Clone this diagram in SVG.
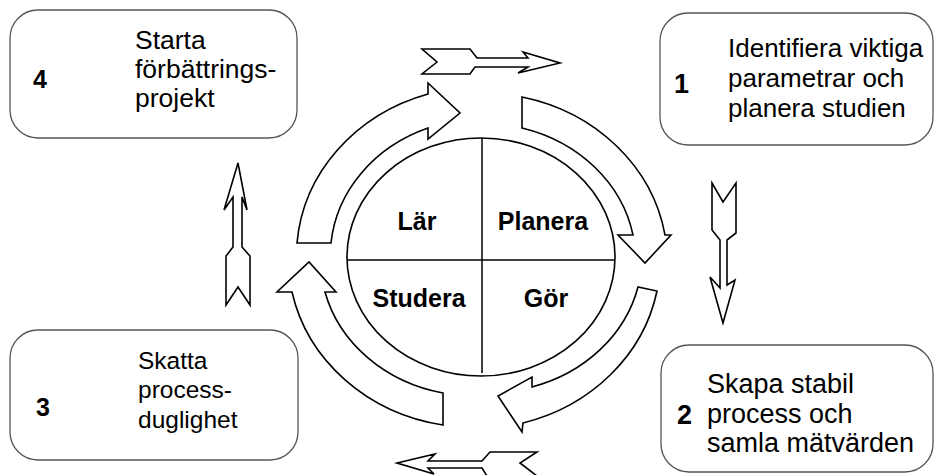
<svg xmlns="http://www.w3.org/2000/svg" width="935" height="475" viewBox="0 0 935 475">
<style>
.box{fill:#fff;stroke:#555;stroke-width:1.3}
.arr{fill:#fff;stroke:#000;stroke-width:1.6;stroke-linejoin:miter}
.t{font-family:"Liberation Sans",Arial,sans-serif;fill:#000}
.n{font-family:"Liberation Sans",Arial,sans-serif;font-weight:bold;fill:#000}
.c{font-family:"Liberation Sans",Arial,sans-serif;font-weight:bold;font-size:25px;fill:#000;text-anchor:middle}
</style>
<rect width="935" height="475" fill="#fff"/>
<g id="box4">
<rect class="box" x="10" y="10" width="287" height="128" rx="28"/>
<text class="n" x="33" y="88" font-size="25">4</text>
<text class="t" font-size="26.5"><tspan x="135" y="49">Starta</tspan><tspan x="135" y="78">förbättrings-</tspan><tspan x="135" y="107">projekt</tspan></text>
</g>
<g id="box1">
<rect class="box" x="660" y="13" width="273" height="132" rx="28"/>
<text class="n" x="674" y="93" font-size="27">1</text>
<text class="t" font-size="26"><tspan x="728" y="57">Identifiera viktiga</tspan><tspan x="728" y="87">parametrar och</tspan><tspan x="728" y="117">planera studien</tspan></text>
</g>
<g id="box3">
<rect class="box" x="10" y="330" width="288" height="130" rx="28"/>
<text class="n" x="36" y="416" font-size="25">3</text>
<text class="t" font-size="24.5"><tspan x="138" y="369">Skatta</tspan><tspan x="138" y="398">process-</tspan><tspan x="138" y="428">duglighet</tspan></text>
</g>
<g id="box2">
<rect class="box" x="661" y="345" width="272" height="127" rx="28"/>
<text class="n" x="677" y="424" font-size="27">2</text>
<text class="t" font-size="27"><tspan x="707" y="393">Skapa stabil</tspan><tspan x="707" y="423">process och</tspan><tspan x="707" y="452">samla mätvärden</tspan></text>
</g>
<g id="cycle">
<ellipse cx="481" cy="257" rx="134" ry="119" fill="#fff" stroke="#000" stroke-width="1.6"/>
<line x1="347" y1="260" x2="615" y2="260" stroke="#000" stroke-width="1.5"/>
<line x1="482" y1="138" x2="482" y2="373" stroke="#000" stroke-width="1.5"/>
<text class="c" x="417" y="230">Lär</text>
<text class="c" x="543" y="230">Planera</text>
<text class="c" x="419" y="307">Studera</text>
<text class="c" x="546" y="307">Gör</text>
</g>
<g id="connectors">
<path class="arr" d="M297,243 A186,170 0 0 1 428,94 L428,83 L460,113 L428,139 L428,128 A153,137 0 0 0 331,243 Z"/>
<path class="arr" d="M522,97 A186,170 0 0 1 665,235 L671,235 L645,263 L618,235 L633,235 A154,137 0 0 0 522,128 Z"/>
<path class="arr" d="M657,291 A186,170 0 0 1 523,423 L522,432 L498,396 L532,377 L532,387 A154,137 0 0 0 638,287 Z"/>
<path class="arr" d="M443,425 A186,170 0 0 1 292,292 L277,292 L309,262 L336,292 L325,292 A154,137 0 0 0 443,393 Z"/>
<path class="arr" d="M422,49 L470,49 L477,58 L528,58 L523,52 L560,63 L518,73 L528,67 L475,67 L470,74 L422,74 L437,62 Z"/>
<path class="arr" d="M712,183 L723,202 L736,183 L736,233 L727,240 L727,285 L735,280 L723,323 L710,277 L720,288 L720,240 L712,230 Z"/>
<path class="arr" d="M238,163 L247,210 L242,197 L242,247 L250,256 L250,305 L238,287 L226,305 L226,256 L233,247 L233,197 L224,210 Z"/>
<path class="arr" d="M397,463 L435,454 L428,461 L482,461 L490,452 L537,452 L520,463 L537,476 L487,476 L482,468 L428,468 L434,474 Z"/>
</g>
</svg>
